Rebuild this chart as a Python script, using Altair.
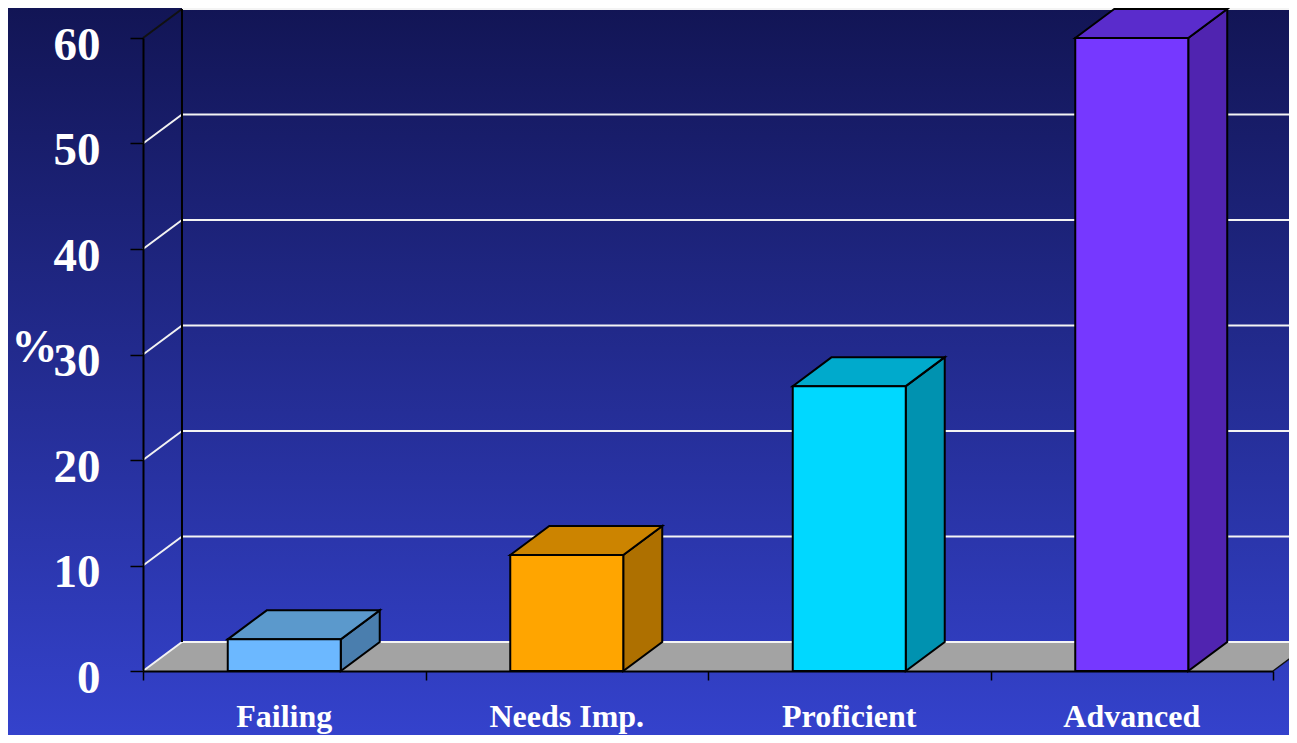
import altair as alt
import pandas as pd

# ---- data ----
categories = ["Failing", "Needs Imp.", "Proficient", "Advanced"]
values = [3, 11, 27, 60]
front_colors = ["#6CB8FF", "#FFA500", "#00D8FF", "#7638FF"]
top_colors = ["#5B99CC", "#CC8400", "#00AACC", "#5A2CCC"]
side_colors = ["#4A7EAE", "#AE7000", "#0092B0", "#5024B0"]
y_ticks = [0, 10, 20, 30, 40, 50, 60]
x_bounds = [0, 1, 2, 3, 4]

# ---- geometry / style ----
W, H = 1130, 633
PAD = {"left": 135, "top": 30, "right": 16, "bottom": 64}
HALF = 0.2      # half bar width in category units
DX = 0.138      # depth offset, category units
DY = 2.75       # depth offset, value units
FONT = "Liberation Serif"

xs = alt.Scale(domain=[0, 4], nice=False, zero=False)
ys = alt.Scale(domain=[0, 60], nice=False, zero=False)

front_rows, side_rows, top_rows = [], [], []
for i, (c, v) in enumerate(zip(categories, values)):
    p = i + 0.5
    front_rows.append(dict(cat=c, x1=p - HALF, x2=p + HALF, y1=0, y2=v, fill=front_colors[i]))
    side_rows.append(dict(cat=c, x=p + HALF, lo=0, hi=v, fill=side_colors[i]))
    side_rows.append(dict(cat=c, x=p + HALF + DX, lo=DY, hi=v + DY, fill=side_colors[i]))
    top_rows.append(dict(cat=c, y=v, xa=p - HALF, xb=p + HALF, fill=top_colors[i]))
    top_rows.append(dict(cat=c, y=v + DY, xa=p - HALF + DX, xb=p + HALF + DX, fill=top_colors[i]))
front_df = pd.DataFrame(front_rows)
side_df = pd.DataFrame(side_rows)
top_df = pd.DataFrame(top_rows)
label_df = pd.DataFrame({"cat": categories, "pos": [i + 0.5 for i in range(len(categories))]})

floor_df = pd.DataFrame({"y": [0, DY], "xa": [0, DX], "xb": [4, 4 + DX]})
grid_df = pd.DataFrame({"v": y_ticks, "vb": [t + DY for t in y_ticks],
                        "col": ["#F2F2F2" if t < 60 else "#111111" for t in y_ticks]})

bg = alt.Chart(pd.DataFrame({"a": [0]})).mark_rect(
    color=alt.Gradient(gradient="linear", x1=0, x2=0, y1=0, y2=1,
                       stops=[alt.GradientStop(color="#121555", offset=0),
                              alt.GradientStop(color="#3442CC", offset=1)])
).encode(x=alt.value(-PAD["left"]), x2=alt.value(W + PAD["right"]),
         y=alt.value(-PAD["top"]), y2=alt.value(H + PAD["bottom"]))

floor = alt.Chart(floor_df).mark_area(orient="horizontal", color="#A3A3A3").encode(
    y=alt.Y("y:Q", scale=ys), x=alt.X("xa:Q", scale=xs), x2="xb:Q")

back_grid = alt.Chart(grid_df).mark_rule(color="#F4F4F4", strokeWidth=2.2).encode(
    y=alt.Y("vb:Q", scale=ys), x=alt.datum(DX), x2=alt.datum(4 + DX))

connectors = alt.Chart(grid_df).mark_rule(strokeWidth=2).encode(
    x=alt.datum(0), x2=alt.datum(DX), y=alt.Y("v:Q", scale=ys), y2="vb:Q",
    color=alt.Color("col:N", scale=None))

back_axis = alt.Chart(pd.DataFrame({"a": [0]})).mark_rule(color="#000000", strokeWidth=2).encode(
    x=alt.datum(DX), y=alt.datum(DY), y2=alt.datum(60 + DY))

floor_right = alt.Chart(pd.DataFrame({"a": [0]})).mark_rule(color="#111111", strokeWidth=1.5).encode(
    x=alt.datum(4), x2=alt.datum(4 + DX), y=alt.datum(0), y2=alt.datum(DY))

side = alt.Chart(side_df).mark_area(stroke="black", strokeWidth=2).encode(
    x=alt.X("x:Q", scale=xs), y=alt.Y("hi:Q", scale=ys), y2="lo:Q",
    color=alt.Color("fill:N", scale=None), detail="cat:N")

top = alt.Chart(top_df).mark_area(orient="horizontal", stroke="black", strokeWidth=2).encode(
    y=alt.Y("y:Q", scale=ys), x=alt.X("xa:Q", scale=xs), x2="xb:Q",
    color=alt.Color("fill:N", scale=None), detail="cat:N")

front = alt.Chart(front_df).mark_rect(stroke="black", strokeWidth=2).encode(
    x=alt.X("x1:Q", scale=xs,
            axis=alt.Axis(values=x_bounds, labels=False, title=None, grid=False,
                          domainColor="black", domainWidth=2, tickColor="black",
                          tickSize=9, tickWidth=1.5, zindex=1)),
    x2="x2:Q",
    y=alt.Y("y1:Q", scale=ys,
            axis=alt.Axis(values=y_ticks, grid=False, title="%", titleAngle=0,
                          titleX=-132, titleY=323, titleAlign="left",
                          titleBaseline="alphabetic", titleFont=FONT,
                          titleFontSize=46, titleFontWeight="bold", titleColor="white",
                          labelFont=FONT, labelFontSize=47, labelFontWeight="bold",
                          labelColor="white", labelPadding=30, labelBaseline="alphabetic",
                          labelOffset=21, domainColor="black", domainWidth=2,
                          tickColor="black", tickSize=13, tickWidth=1.5, zindex=1)),
    y2="y2:Q",
    color=alt.Color("fill:N", scale=None))

labels = alt.Chart(label_df).mark_text(
    font=FONT, fontSize=32, fontWeight="bold", color="white",
    baseline="alphabetic", align="center", dy=56
).encode(x=alt.X("pos:Q", scale=xs), y=alt.datum(0), text="cat:N")

chart = alt.layer(
    bg, floor, back_grid, connectors, back_axis, floor_right, side, top, front, labels
).properties(
    width=W, height=H, padding=PAD,
    autosize=alt.AutoSizeParams(type="none")
).configure_view(stroke=None)

chart.save("out.html", embed_options={"renderer": "svg", "actions": False})
